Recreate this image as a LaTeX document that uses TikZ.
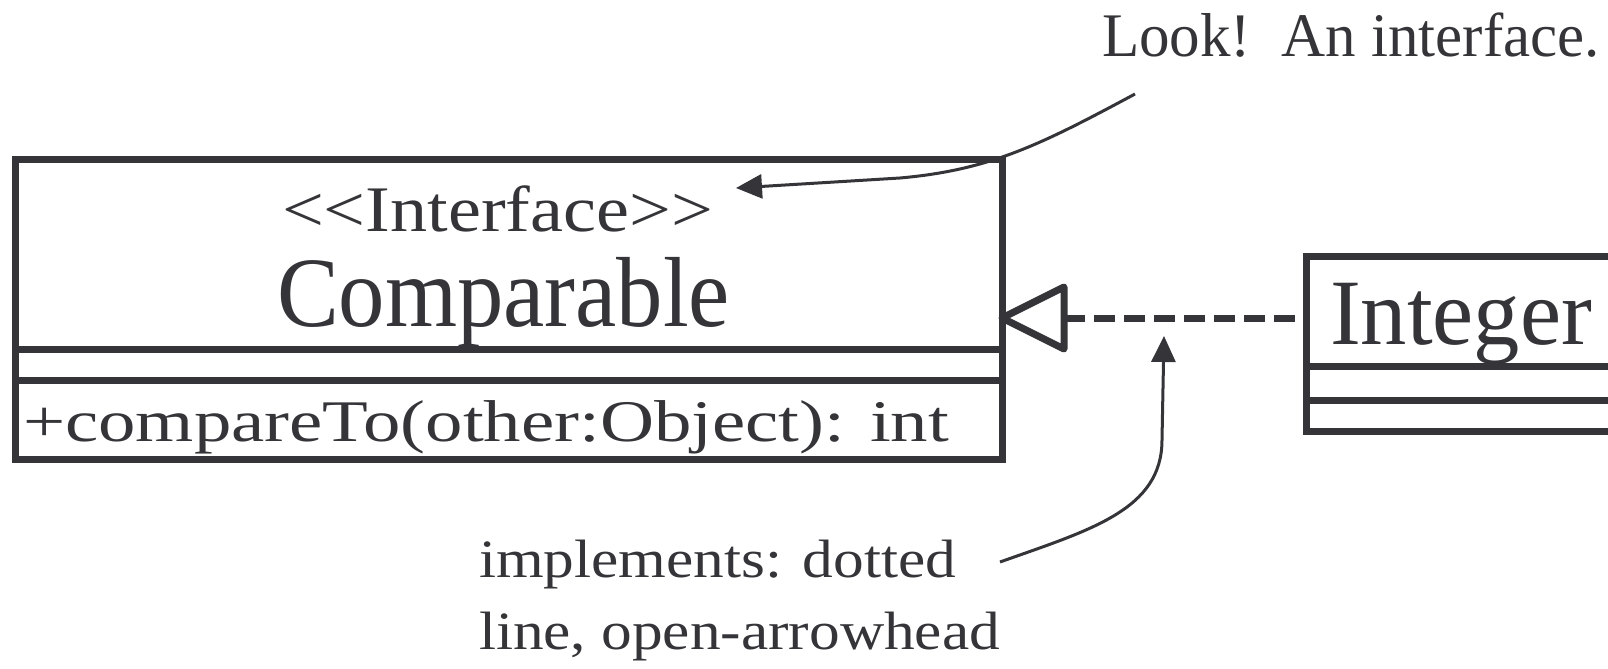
\documentclass[tikz,border=0pt]{standalone}
\usepackage{fontspec}
\setmainfont{Liberation Serif}
\usetikzlibrary{arrows.meta,calc}
\definecolor{ink}{RGB}{53,52,57}
\newcommand{\fittxt}[3]{\resizebox{#1}{\height}{\fontsize{#2}{#2}\selectfont #3}}
\begin{document}
\begin{tikzpicture}[x=0.5pt,y=-0.5pt,
  boxline/.style={draw=ink, line width=3.5pt},
  umlbox/.style={boxline, rectangle, inner sep=0pt, outer sep=0pt},
  lbl/.style={inner sep=0pt, outer sep=0pt, anchor=base west, text=ink},
  callout/.style={draw=ink, line width=1.5pt, -{Triangle[length=13pt,width=12pt]}},
  ]
\useasboundingbox (0,0) rectangle (1608,669);
% boxes
\node[umlbox, minimum width=493.5pt, minimum height=150pt] (cmp) at (508.5,309) {};
\draw[boxline] (cmp.west |- 0,349) -- (cmp.east |- 0,349);
\draw[boxline] (cmp.west |- 0,380) -- (cmp.east |- 0,380);
\node[umlbox, minimum width=153pt, minimum height=87.5pt] (intg) at (1459,343.5) {};
\draw[boxline] (intg.west |- 0,366) -- (intg.east |- 0,366);
\draw[boxline] (intg.west |- 0,400) -- (intg.east |- 0,400);
% texts
\node[lbl] (iface) at (282,231) {\fittxt{215.5pt}{32.5pt}{\mbox{<}\mbox{<}Interface\mbox{>}\mbox{>}}};
\node[lbl] (cmpname) at (277,326) {\fittxt{226.5pt}{49.8pt}{Comparable}};
\node[lbl] (op) at (23,441) {\fittxt{463pt}{29.5pt}{+compareTo(other:Object): int}};
\node[lbl] (intname) at (1330,344) {\fittxt{131pt}{46.8pt}{Integer}};
\node[lbl] (look) at (1102,56) {\fittxt{249pt}{31pt}{Look!\ \ An interface.}};
\node[lbl] (impl1) at (479,577) {\fittxt{238.5pt}{27pt}{implements: dotted}};
\node[lbl] (impl2) at (479,649) {\fittxt{260.5pt}{27pt}{line, open-arrowhead}};
% realization
\coordinate (tip) at (cmp.east |- 0,318);
\coordinate (tail) at (intg.west |- 0,318);
\draw[boxline, dash pattern=on 10.5pt off 4.5pt] ($(tip)+(62,0)$) -- (tail);
\draw[boxline, fill=white, line join=round] (tip) -- ($(tip)+(62,-31)$) -- ($(tip)+(62,31)$) -- cycle;
% callouts
\coordinate (lkend) at (1135,94);
\coordinate (lktip) at (736,188);
\draw[callout] (lkend) .. controls (1040,145) and (990,170) .. (900,178) -- (lktip);
\coordinate (imstart) at (1000,562);
\coordinate (imtip) at (1164,336);
\draw[callout] (imstart) .. controls (1090,530) and (1162,510) .. (1162,440) -- (imtip);
\end{tikzpicture}
\end{document}
